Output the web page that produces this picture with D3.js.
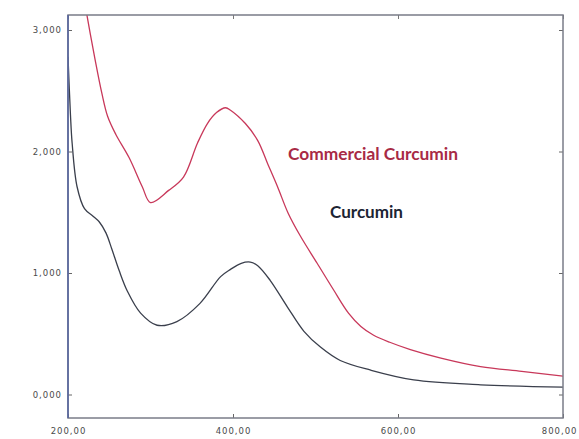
<!DOCTYPE html>
<html>
<head>
<meta charset="utf-8">
<script src="https://cdn.jsdelivr.net/npm/d3@7"></script>
<style>
  body { margin: 0; background: #fff; }
  .tick text { font-family: "DejaVu Sans", sans-serif; font-size: 8.5px; fill: #4a4a4a; letter-spacing: 1px; }
</style>
</head>
<body>
<svg id="chart" width="579" height="439"></svg>
<script>
// wavelength (nm) and absorbance
const commercialWl = [215, 223, 233, 241, 248, 258, 274, 290, 300, 322, 340, 357, 369, 380, 391, 397, 415, 430, 442, 454, 467, 482, 502, 522, 540, 555, 570, 590, 615, 652, 700, 750, 801];
const commercialAbs = [3.45, 3.12, 2.75, 2.48, 2.29, 2.14, 1.95, 1.71, 1.58, 1.68, 1.79, 2.07, 2.23, 2.32, 2.36, 2.34, 2.23, 2.09, 1.90, 1.71, 1.49, 1.30, 1.08, 0.86, 0.67, 0.56, 0.49, 0.43, 0.37, 0.30, 0.23, 0.19, 0.15];

const curcuminWl = [200, 203, 205, 211, 220, 230, 238, 246, 253, 262, 272, 288, 308, 332, 360, 385, 397, 410, 421, 430, 445, 466, 486, 506, 530, 567, 619, 700, 801];
const curcuminAbs = [2.78, 2.30, 2.07, 1.71, 1.53, 1.47, 1.42, 1.33, 1.20, 1.02, 0.85, 0.67, 0.57, 0.60, 0.75, 0.97, 1.03, 1.08, 1.09, 1.06, 0.94, 0.72, 0.52, 0.39, 0.28, 0.20, 0.12, 0.08, 0.06];

const xTicks = [200, 400, 600, 800];
const yTicks = [0, 1, 2, 3];

const svg = d3.select('#chart');
const plotLeft = 68, plotRight = 563, plotTop = 15, plotBottom = 418;

const x = d3.scaleLinear().domain([200, 800]).range([plotLeft, plotRight]);
const y = d3.scaleLinear().domain([0, 3]).range([394.5, 30]);

const fmtY = d => d3.format('.3f')(d).replace('.', ',');
const fmtX = d => d3.format('.2f')(d).replace('.', ',');

// clip region for curves
svg.append('clipPath').attr('id', 'plot')
  .append('rect').attr('x', plotLeft).attr('y', plotTop).attr('width', plotRight - plotLeft).attr('height', plotBottom - plotTop);

const line = d3.line().x(d => x(d[0])).y(d => y(d[1])).curve(d3.curveCatmullRom.alpha(0.5));

svg.append('path')
  .datum(d3.zip(commercialWl, commercialAbs))
  .attr('clip-path', 'url(#plot)')
  .attr('d', line)
  .attr('fill', 'none')
  .attr('stroke', '#c8385a')
  .attr('stroke-width', 1.3);

svg.append('path')
  .datum(d3.zip(curcuminWl, curcuminAbs))
  .attr('clip-path', 'url(#plot)')
  .attr('d', line)
  .attr('fill', 'none')
  .attr('stroke', '#3a3f4c')
  .attr('stroke-width', 1.3);

// axes, ticks pointing inward on all four sides
svg.append('g')
  .attr('transform', `translate(${plotLeft},0)`)
  .call(d3.axisLeft(y).tickValues(yTicks).tickFormat(fmtY).tickSizeInner(-4).tickSizeOuter(0).tickPadding(6))
  .call(g => g.select('.domain').remove())
  .call(g => g.selectAll('line').attr('stroke', '#666'));

svg.append('g')
  .attr('transform', `translate(${plotRight},0)`)
  .call(d3.axisRight(y).tickValues(yTicks).tickFormat('').tickSizeInner(-4).tickSizeOuter(0))
  .call(g => g.select('.domain').remove())
  .call(g => g.selectAll('line').attr('stroke', '#666'));

svg.append('g')
  .attr('transform', `translate(0,${plotBottom})`)
  .call(d3.axisBottom(x).tickValues(xTicks).tickFormat(fmtX).tickSizeInner(-4).tickSizeOuter(0).tickPadding(10))
  .call(g => g.select('.domain').remove())
  .call(g => g.selectAll('line').attr('stroke', '#666'))
  .call(g => g.selectAll('.tick text').filter(d => d === 800).attr('text-anchor', 'end').attr('x', 14));

svg.append('g')
  .attr('transform', `translate(0,${plotTop})`)
  .call(d3.axisTop(x).tickValues(xTicks).tickFormat('').tickSizeInner(-4).tickSizeOuter(0))
  .call(g => g.select('.domain').remove())
  .call(g => g.selectAll('line').attr('stroke', '#777'));

// frame
svg.append('rect')
  .attr('x', plotLeft).attr('y', plotTop)
  .attr('width', plotRight - plotLeft).attr('height', plotBottom - plotTop)
  .attr('fill', 'none')
  .attr('stroke', '#7a7c88')
  .attr('stroke-width', 1.5);
svg.append('line')
  .attr('x1', plotLeft).attr('x2', plotLeft).attr('y1', plotTop).attr('y2', plotBottom)
  .attr('stroke', '#5565a0').attr('stroke-width', 1.5);

// series labels
svg.append('text')
  .attr('x', 288).attr('y', 160)
  .attr('textLength', 170).attr('lengthAdjust', 'spacingAndGlyphs')
  .style('font-family', 'Lato, "Open Sans", sans-serif')
  .style('font-weight', 'bold')
  .style('font-size', '17px')
  .attr('fill', '#a82a45')
  .text('Commercial Curcumin');

svg.append('text')
  .attr('x', 330).attr('y', 218)
  .attr('textLength', 73).attr('lengthAdjust', 'spacingAndGlyphs')
  .style('font-family', 'Lato, "Open Sans", sans-serif')
  .style('font-weight', 'bold')
  .style('font-size', '17px')
  .attr('fill', '#1c2433')
  .text('Curcumin');
</script>
</body>
</html>
